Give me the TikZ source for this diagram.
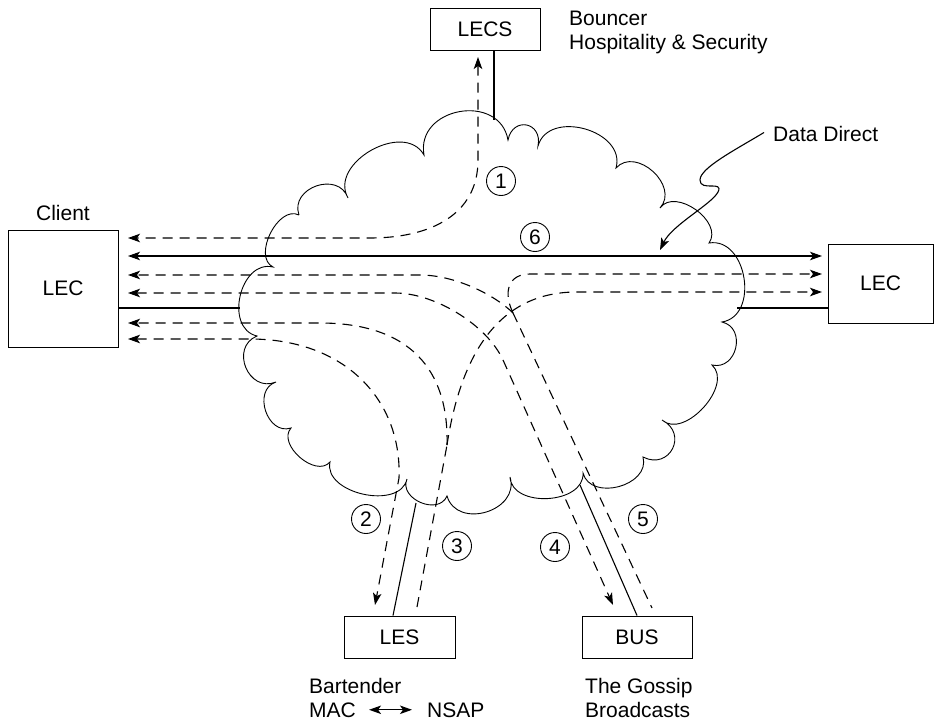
\documentclass[tikz,border=0pt]{standalone}
\usepackage{fontspec}
\setmainfont{Liberation Sans}
\usetikzlibrary{arrows.meta,calc}
\begin{document}
\begin{tikzpicture}[x=1pt,y=-1pt,
  >={Stealth[length=12pt,width=8.5pt,inset=3pt]},
  bump/.style={to path={.. controls ($(\tikztostart)!#1!90:(\tikztotarget)$) and ($(\tikztotarget)!#1!-90:(\tikztostart)$) .. (\tikztotarget)}},
  bump/.default=0.5,
  txt/.style={font=\fontsize{21}{25}\selectfont},
  box/.style={draw, line width=1pt, inner sep=0pt, txt},
  lbl/.style={inner sep=0pt, txt},
  num/.style={draw, circle, line width=0.9pt, minimum size=29pt, inner sep=0pt, txt},
  sline/.style={line width=1.1pt},
  dline/.style={line width=1.1pt, dash pattern=on 10pt off 7pt},
  cloudline/.style={line width=0.9pt}]
\useasboundingbox (0,0) rectangle (934,720);

% boxes
\node[box, minimum width=110pt, minimum height=42pt] (lecs) at (485,29) {LECS};
\node[box, minimum width=110pt, minimum height=117pt] (lec1) at (63,288.5) {LEC};
\node[box, minimum width=105pt, minimum height=79pt] (lec2) at (880.5,283.5) {LEC};
\node[box, minimum width=111pt, minimum height=42pt] (les) at (399.5,637) {LES};
\node[box, minimum width=110pt, minimum height=42pt] (bus) at (637,637) {BUS};

% labels
\node[lbl, anchor=base west] (bouncer) at (569,25) {Bouncer};
\node[lbl, anchor=base west] (hosp) at (569,49.5) {Hospitality \& Security};
\node[lbl, anchor=base] (client) at (63,220) {Client};
\node[lbl, anchor=base west] (dd) at (773,141) {Data Direct};
\node[lbl, anchor=base west] (bart) at (309,693) {Bartender};
\node[lbl, anchor=base west] (mac) at (309,717) {MAC};
\node[lbl, anchor=base west] (nsap) at (427,717) {NSAP};
\node[lbl, anchor=base west] (gossip) at (585,693) {The Gossip};
\node[lbl, anchor=base west] (bcast) at (585,717) {Broadcasts};
\draw[sline,<->] ([xshift=13pt]mac.east) -- ([xshift=-15pt]nsap.west);

% cloud
\draw[cloudline]
  (299,215) to[bump=0.56] (348,198) to[bump=0.46] (424,155) to[bump=0.57] (508,140)
  to[bump=0.8] (538,146) to[bump=0.48] (616,168) to[bump=0.5] (660,208)
  to[bump=0.43] (709,243) to[bump=0.48] (722,322) to[bump=0.58] (712,365)
  to[bump=0.4] (662,420) to[bump=0.72] (643,457) to[bump=0.48] (583,473)
  to[bump=0.43] (510,477) to[bump=0.54] (447,496) to[bump=0.5] (407,479)
  to[bump=0.41] (330,462) to[bump=0.42] (291,428) to[bump=0.52] (276,382)
  to[bump=0.6] (257,336) to[bump=0.48] (273,267) to[bump=0.4] (299,215);

% attachment points
\coordinate (ctop) at (494,120);
\coordinate (cleft) at (240,308);
\coordinate (cright) at (737,308);
\coordinate (cles) at (416,503);
\coordinate (cbus) at (580,485);
\draw[sline] (lecs.south -| ctop) -- (ctop);
\draw[sline] (lec1.east |- cleft) -- (cleft);
\draw[sline] (cright) -- (lec2.west |- cright);
\draw[sline] ([xshift=-6.5pt]les.north) -- (cles);
\draw[sline] (bus.north) -- (cbus);

% free ends
\coordinate (a1) at (478,57);
\coordinate (l1) at (128,238);
\coordinate (l6) at (128,256);
\coordinate (r6) at (822,256);
\coordinate (l5) at (128,275);
\coordinate (r5) at (822,274);
\coordinate (l4) at (128,293);
\coordinate (r3) at (822,292);
\coordinate (l3) at (128,323);
\coordinate (l2) at (128,339);
\coordinate (b2) at (375,605);
\coordinate (s3) at (417,607);
\coordinate (j3) at (447,445);
\coordinate (b4) at (613,605);
\coordinate (j5) at (513,313);
\coordinate (b5) at (652,608);
\coordinate (ddtip) at (660,250);

% path 1
\draw[dline,<->] (a1) -- (478,160) .. controls (478,215) and (430,238) .. (370,238) -- (l1);
% path 6
\draw[sline,<->] (l6) -- (r6);
% path 5
\draw[dline,->] (j5) .. controls (495,295) and (455,275) .. (420,275) -- (l5);
\draw[dline,->] (j5) .. controls (503,292) and (508,274) .. (530,274) -- (r5);
\draw[dline] (j5) -- (b5);
% path 4
\draw[dline,<->] (l4) -- (395,293) .. controls (435,293) and (487,325) .. (503,360) -- (b4);
% path 3
\draw[dline] (s3) -- (j3);
\draw[dline,->] (j3) .. controls (449,370) and (410,323) .. (320,323) -- (l3);
\draw[dline,->] (j3) .. controls (460,360) and (495,293) .. (575,292) -- (r3);
% path 2
\draw[dline,<->] (l2) -- (250,339) .. controls (345,339) and (402,400) .. (399,478) -- (b2);

% data direct pointer
\draw[sline,->] ([xshift=-9pt,yshift=1pt]dd.west) .. controls (735,150) and (700,168) .. (700,180)
  .. controls (700,192) and (724,180) .. (718,192)
  .. controls (712,204) and (672,225) .. (ddtip);

% numbers
\node[num] (n1) at (501,181) {1};
\node[num] (n6) at (535,237) {6};
\node[num] (n2) at (366,519) {2};
\node[num] (n3) at (457,546) {3};
\node[num] (n4) at (555,547) {4};
\node[num] (n5) at (643,519) {5};
\end{tikzpicture}
\end{document}
